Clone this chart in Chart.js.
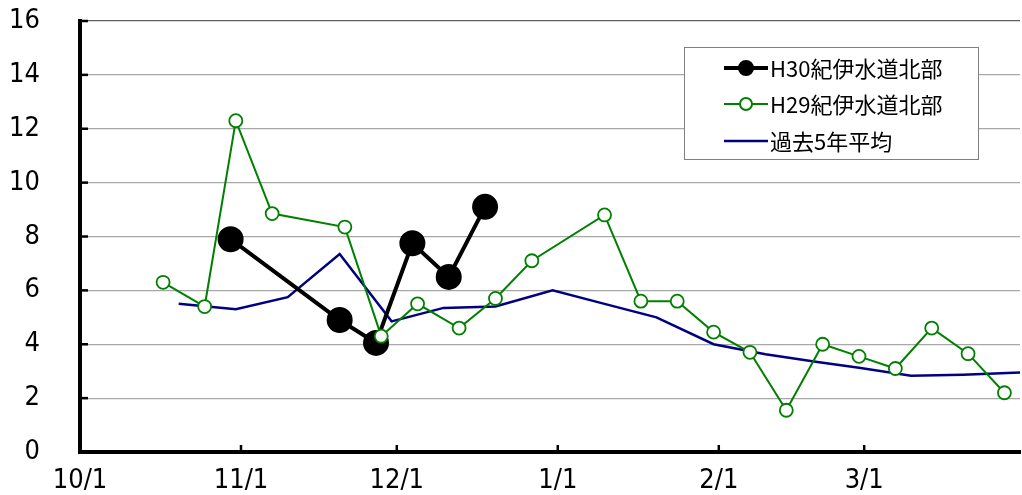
<!DOCTYPE html>
<html>
<head>
<meta charset="utf-8">
<script src="https://cdn.jsdelivr.net/npm/chart.js@4/dist/chart.umd.min.js"></script>
<style>
  body { margin: 0; background: #fff; }
  #wrap { width: 1022px; height: 495px; }
</style>
</head>
<body>
<div id="wrap"><canvas id="chart" width="1022" height="495"></canvas></div>
<script>
// 目盛り
var tickLabels = ['10/1', '11/1', '12/1', '1/1', '2/1', '3/1'];

// H30紀伊水道北部
var h30Dates = ['10/30', '11/20', '11/27', '12/4', '12/11', '12/18'];
var h30Values = [7.9, 4.9, 4.05, 7.75, 6.5, 9.1];

// H29紀伊水道北部
var h29Dates = ['10/17', '10/25', '10/31', '11/7', '11/21', '11/28', '12/5', '12/13', '12/20', '12/27',
                '1/10', '1/17', '1/24', '1/31', '2/7', '2/14', '2/21', '2/28', '3/7', '3/14', '3/21', '3/28'];
var h29Values = [6.3, 5.4, 12.3, 8.85, 8.35, 4.3, 5.5, 4.6, 5.7, 7.1,
                 8.8, 5.6, 5.6, 4.45, 3.7, 1.55, 4.0, 3.55, 3.1, 4.6, 3.65, 2.2];

// 過去5年平均
var avgDates = ['10/20', '10/31', '11/10', '11/20', '11/30', '12/10', '12/20', '12/31',
                '1/10', '1/20', '1/31', '2/10', '2/20', '2/28', '3/10', '3/20', '3/31'];
var avgValues = [5.5, 5.3, 5.75, 7.35, 4.85, 5.35, 5.4, 6.0,
                 5.5, 5.0, 4.0, 3.63, 3.34, 3.13, 2.83, 2.87, 2.95];

// 10/1 からの日数
function dayOf(md) {
    var p = md.split('/');
    var m = parseInt(p[0]), d = parseInt(p[1]);
    var y = m >= 10 ? 2018 : 2019;
    return Math.round((Date.UTC(y, m - 1, d) - Date.UTC(2018, 9, 1)) / 86400000);
}

function points(dates, values) {
    return dates.map(function (md, i) { return { x: dayOf(md), y: values[i] }; });
}

var tickDays = tickLabels.map(dayOf);
var axisFont = { family: "'DejaVu Sans Condensed', sans-serif", size: 27 };
var legendFont = "22px 'Noto Sans CJK JP', sans-serif";

// 凡例と内向きの目盛り線
var extras = {
    id: 'extras',
    afterDatasetsDraw: function (chart) {
        var ctx = chart.ctx;
        var xs = chart.scales.x, ys = chart.scales.y;
        var area = chart.chartArea;
        ctx.save();
        ctx.strokeStyle = '#000';
        ctx.lineWidth = 2.5;
        ys.ticks.forEach(function (t) {
            var y = ys.getPixelForValue(t.value);
            ctx.beginPath(); ctx.moveTo(area.left, y); ctx.lineTo(area.left + 8, y); ctx.stroke();
        });
        tickDays.forEach(function (d) {
            var x = xs.getPixelForValue(d);
            ctx.beginPath(); ctx.moveTo(x, area.bottom); ctx.lineTo(x, area.bottom - 7); ctx.stroke();
        });

        // 凡例
        var bx = 684, by = 47, bw = 294, bh = 112;
        ctx.fillStyle = '#fff';
        ctx.fillRect(bx, by, bw, bh);
        ctx.strokeStyle = '#808080';
        ctx.lineWidth = 1;
        ctx.strokeRect(bx + 0.5, by + 0.5, bw, bh);

        var rows = [
            { label: 'H30紀伊水道北部', color: '#000', width: 4, r: 7, fill: '#000', y: 68 },
            { label: 'H29紀伊水道北部', color: '#008000', width: 2, r: 6, fill: '#fff', y: 104 },
            { label: '過去5年平均', color: '#000080', width: 2.5, r: 0, fill: null, y: 141 }
        ];
        rows.forEach(function (row) {
            ctx.strokeStyle = row.color;
            ctx.lineWidth = row.width;
            ctx.beginPath(); ctx.moveTo(724, row.y); ctx.lineTo(768, row.y); ctx.stroke();
            if (row.r) {
                ctx.beginPath();
                ctx.arc(746, row.y, row.r, 0, Math.PI * 2);
                ctx.fillStyle = row.fill;
                ctx.fill();
                ctx.lineWidth = 2;
                ctx.stroke();
            }
            ctx.fillStyle = '#000';
            ctx.font = legendFont;
            ctx.textBaseline = 'middle';
            ctx.fillText(row.label, 770, row.y + 1);
        });
        ctx.restore();
    }
};

var ctx = document.getElementById('chart').getContext('2d');
new Chart(ctx, {
    type: 'scatter',
    data: {
        datasets: [{
            label: 'H30紀伊水道北部',
            data: points(h30Dates, h30Values),
            showLine: true,
            borderColor: '#000',
            borderWidth: 4,
            pointRadius: 11,
            pointBackgroundColor: '#000',
            pointBorderColor: '#000',
            order: 1
        }, {
            label: 'H29紀伊水道北部',
            data: points(h29Dates, h29Values),
            showLine: true,
            borderColor: '#008000',
            borderWidth: 2,
            pointRadius: 6.5,
            pointBorderWidth: 1.8,
            pointBackgroundColor: '#fff',
            pointBorderColor: '#008000',
            order: 0
        }, {
            label: '過去5年平均',
            data: points(avgDates, avgValues),
            showLine: true,
            borderColor: '#000080',
            borderWidth: 2.5,
            pointRadius: 0,
            order: 2
        }]
    },
    options: {
        responsive: false,
        animation: false,
        clip: false,
        layout: { autoPadding: false, padding: { top: 21, right: 2, left: 0, bottom: 0 } },
        plugins: {
            legend: { display: false },
            tooltip: { enabled: false }
        },
        scales: {
            x: {
                type: 'linear',
                min: 0,
                max: 181,
                afterBuildTicks: function (scale) {
                    scale.ticks = tickDays.map(function (d) { return { value: d }; });
                },
                afterFit: function (scale) { scale.height = 43; },
                grid: { display: false },
                border: { color: '#000', width: 4 },
                ticks: {
                    color: '#000',
                    font: axisFont,
                    padding: 5,
                    maxRotation: 0,
                    autoSkip: false,
                    callback: function (v, i) { return tickLabels[i]; }
                }
            },
            y: {
                min: 0,
                max: 16,
                afterFit: function (scale) { scale.width = 80; },
                grid: {
                    color: function (c) { return c.tick && c.tick.value === 16 ? '#606060' : '#a8a8a8'; },
                    lineWidth: 1.2,
                    drawTicks: true,
                    tickLength: 36,
                    tickColor: 'rgba(0,0,0,0)'
                },
                border: { color: '#000', width: 4 },
                ticks: {
                    stepSize: 2,
                    color: '#000',
                    font: axisFont,
                    padding: 4
                }
            }
        }
    },
    plugins: [extras]
});
</script>
</body>
</html>
